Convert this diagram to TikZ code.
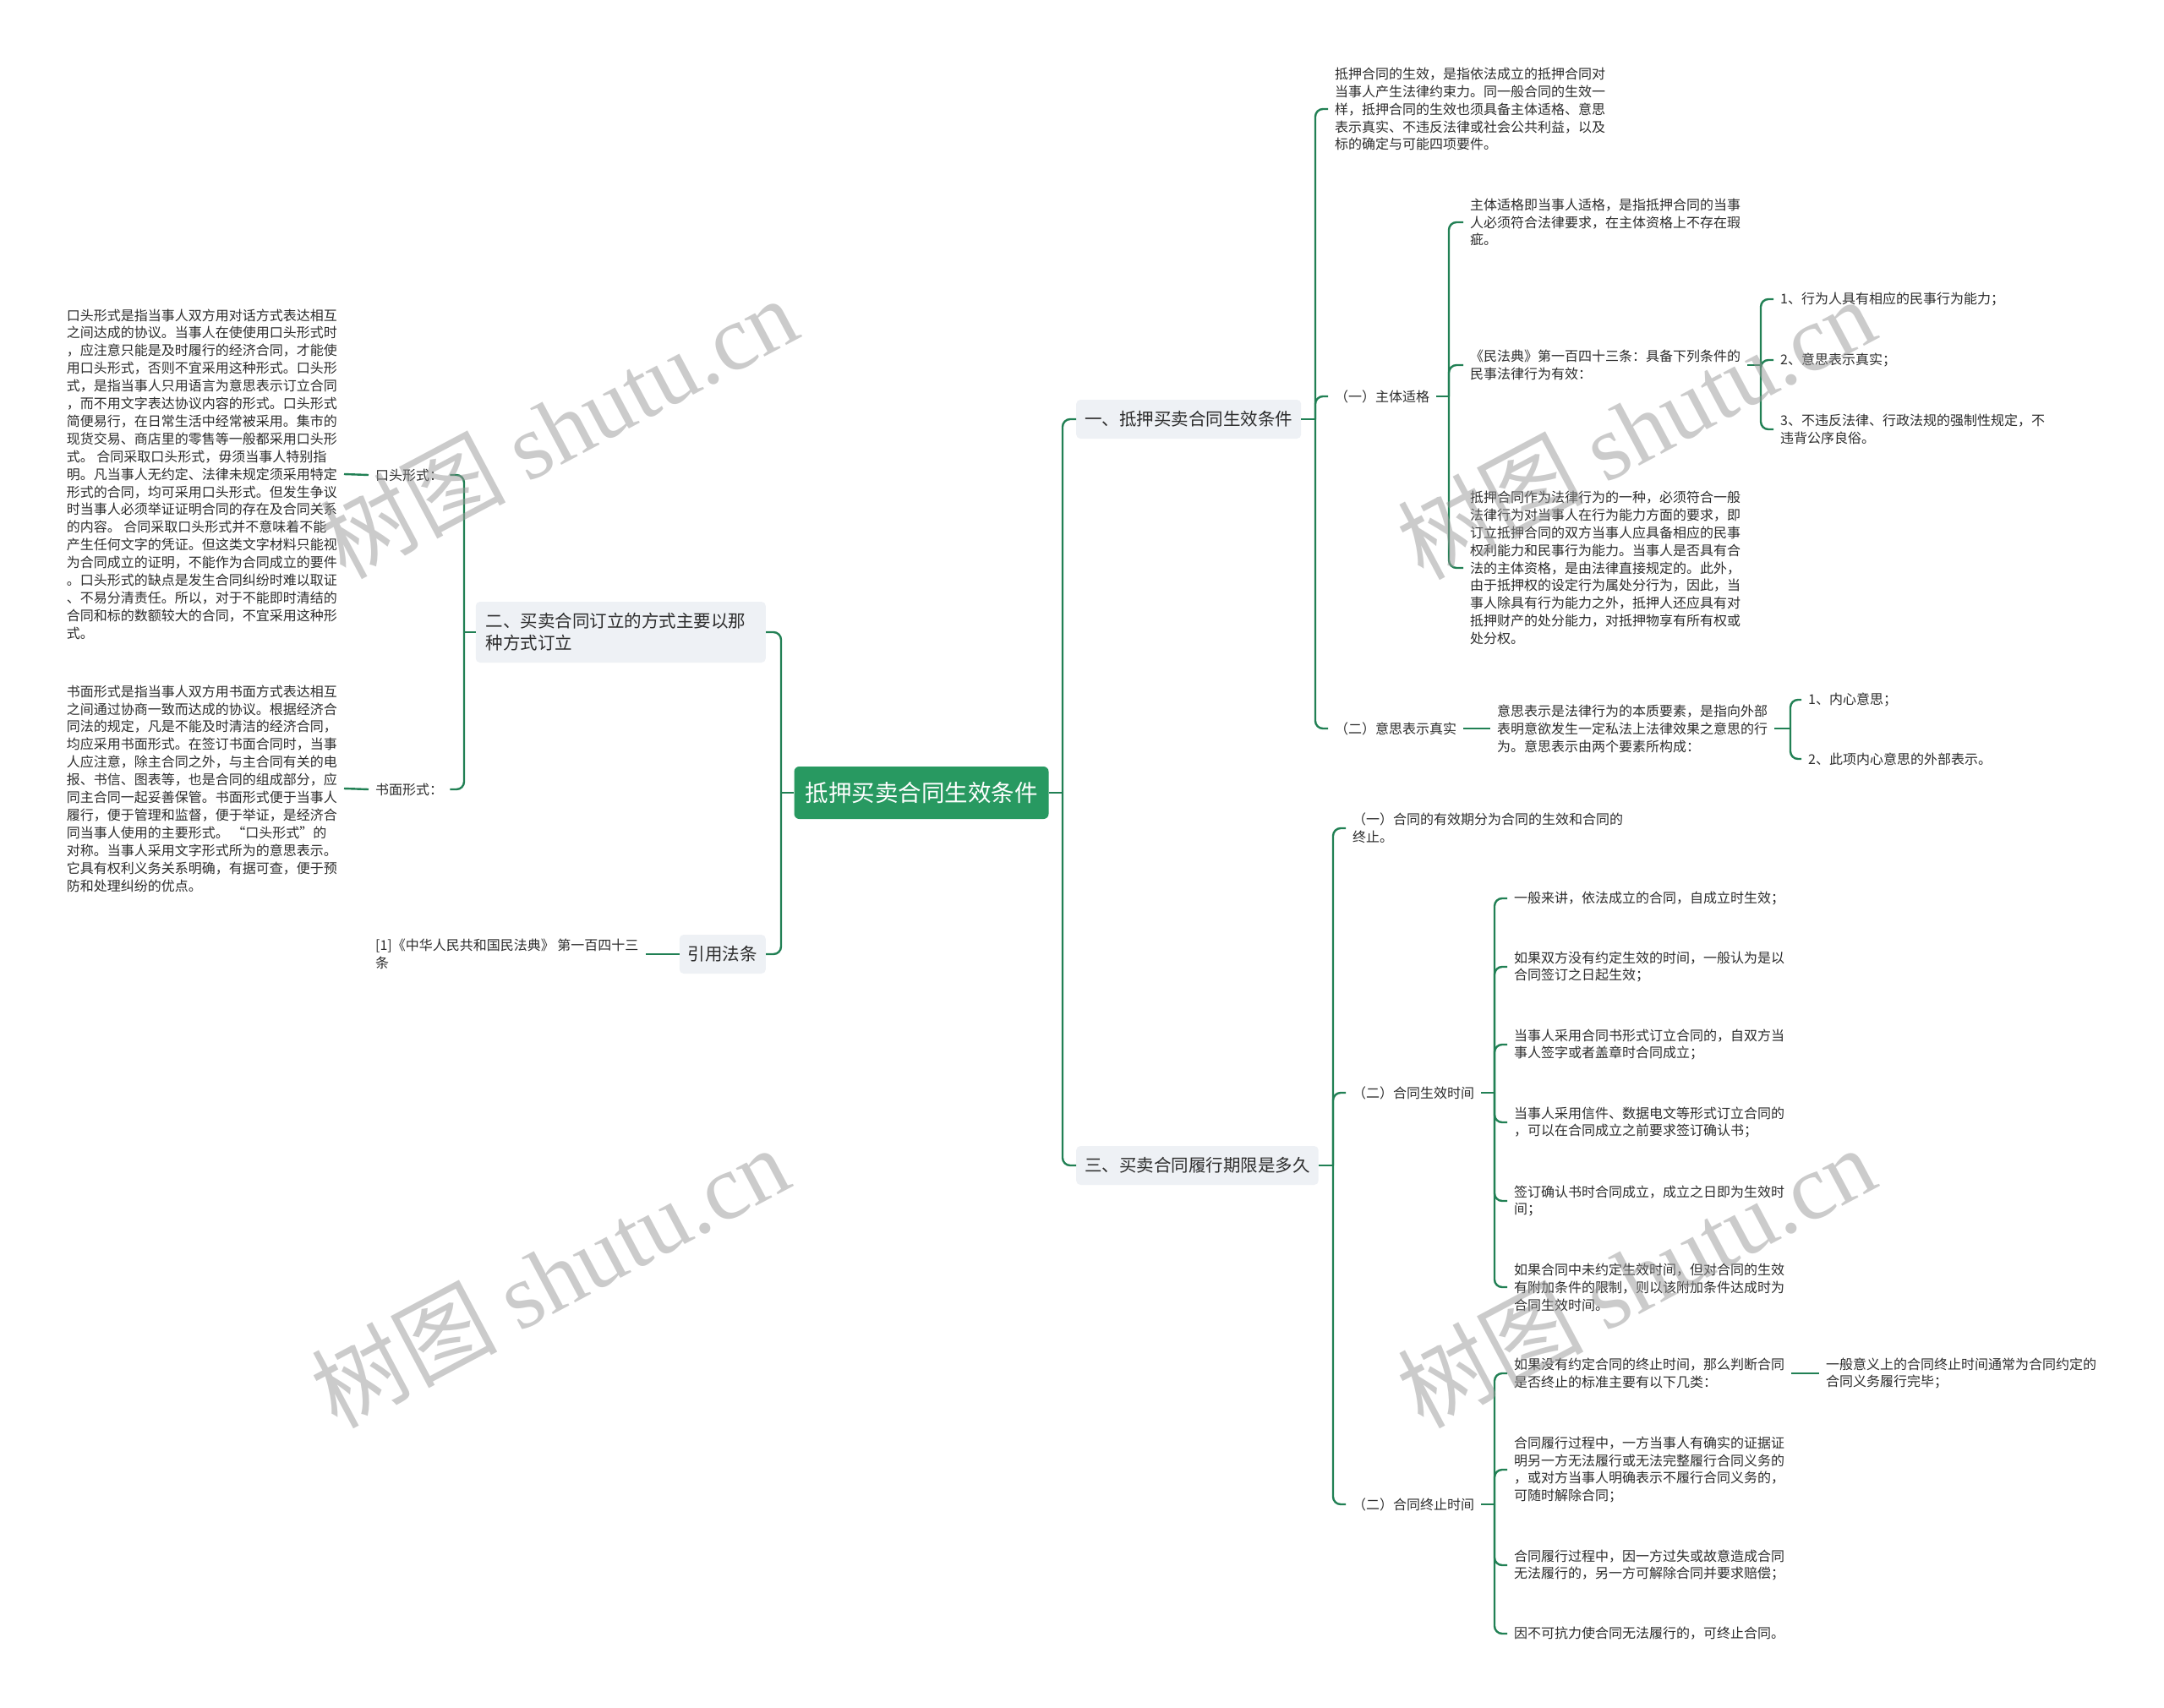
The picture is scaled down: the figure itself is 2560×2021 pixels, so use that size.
\documentclass[tikz,border=0pt]{standalone}
\usepackage{fontspec}
\setmainfont{Noto Sans CJK SC}
\newfontfamily\wmlatin{Liberation Serif}
\usetikzlibrary{positioning}
\definecolor{rootgreen}{RGB}{40,153,97}
\definecolor{linegreen}{RGB}{33,128,84}
\definecolor{topicfill}{RGB}{238,241,245}
\definecolor{inkdark}{RGB}{45,45,45}
\newcommand{\leaffont}{\fontsize{16}{20.9}\selectfont}

\begin{document}
\begin{tikzpicture}[x=1pt, y=-1pt,
    root/.style={fill=rootgreen, text=white, rounded corners=6pt,
                 font=\fontsize{27.5}{33}\selectfont, inner xsep=13pt,
                 minimum height=62pt},
    topic/.style={fill=topicfill, text=inkdark, rounded corners=5pt,
                  font=\fontsize{20.5}{26}\selectfont, inner xsep=10pt,
                  minimum height=46pt, align=left},
    leaf/.style={text=inkdark, font=\leaffont, align=left,
                 inner xsep=8pt, inner ysep=2pt},
    conn/.style={draw=linegreen, line width=2.4pt, rounded corners=9pt},
    wm/.style={text=black!40, opacity=.5, rotate=28,
               font=\fontsize{110}{110}\selectfont}
  ]
  \fill[white] (0,0) rectangle (2560,2021);
  \useasboundingbox (0,0) rectangle (2560,2021);

  \node[root] (root) at (1090,938) {抵押买卖合同生效条件};

  % left side
  \node[topic, anchor=east, text width=319pt, minimum height=72pt, inner xsep=12pt] (t2) at (906,748) {二、买卖合同订立的方式主要以那\\种方式订立};
  \node[topic, anchor=east] (law) at (906,1129) {引用法条};
  \node[leaf, anchor=west] (oral) at (436,562) {口头形式：};
  \node[leaf, anchor=west] (writ) at (436,934) {书面形式：};
  \node[leaf, anchor=east] (oraltxt) at (407,561) {口头形式是指当事人双方用对话方式表达相互\\之间达成的协议。当事人在使使用口头形式时\\，应注意只能是及时履行的经济合同，才能使\\用口头形式，否则不宜采用这种形式。口头形\\式，是指当事人只用语言为意思表示订立合同\\，而不用文字表达协议内容的形式。口头形式\\简便易行，在日常生活中经常被采用。集市的\\现货交易、商店里的零售等一般都采用口头形\\式。 合同采取口头形式，毋须当事人特别指\\明。凡当事人无约定、法律未规定须采用特定\\形式的合同，均可采用口头形式。但发生争议\\时当事人必须举证证明合同的存在及合同关系\\的内容。 合同采取口头形式并不意味着不能\\产生任何文字的凭证。但这类文字材料只能视\\为合同成立的证明，不能作为合同成立的要件\\。口头形式的缺点是发生合同纠纷时难以取证\\、不易分清责任。所以，对于不能即时清结的\\合同和标的数额较大的合同，不宜采用这种形\\式。};
  \node[leaf, anchor=east] (writtxt) at (407,933) {书面形式是指当事人双方用书面方式表达相互\\之间通过协商一致而达成的协议。根据经济合\\同法的规定，凡是不能及时清洁的经济合同，\\均应采用书面形式。在签订书面合同时，当事\\人应注意，除主合同之外，与主合同有关的电\\报、书信、图表等，也是合同的组成部分，应\\同主合同一起妥善保管。书面形式便于当事人\\履行，便于管理和监督，便于举证，是经济合\\同当事人使用的主要形式。 “口头形式”的\\对称。当事人采用文字形式所为的意思表示。\\它具有权利义务关系明确，有据可查，便于预\\防和处理纠纷的优点。};
  \node[leaf, anchor=west] (cite) at (436,1129) {[1]《中华人民共和国民法典》 第一百四十三\\条};

  \coordinate (rl) at (924,938);
  \coordinate (lb) at (549,748);
  \draw[conn] (root.west) -- (rl);
  \draw[conn] (rl) |- (t2.east);
  \draw[conn] (rl) |- (law.east);
  \draw[conn] (t2.west) -- (lb);
  \draw[conn] (lb) |- (oral.east);
  \draw[conn] (lb) |- (writ.east);
  \draw[conn] (oral.west) -- (oraltxt.east);
  \draw[conn] (writ.west) -- (writtxt.east);
  \draw[conn] (law.west) -- (cite.east);

  % right side, branch one
  \node[topic, anchor=west] (t1) at (1273,496) {一、抵押买卖合同生效条件};
  \node[leaf, anchor=west] (eff) at (1571,129) {抵押合同的生效，是指依法成立的抵押合同对\\当事人产生法律约束力。同一般合同的生效一\\样，抵押合同的生效也须具备主体适格、意思\\表示真实、不违反法律或社会公共利益，以及\\标的确定与可能四项要件。};
  \node[leaf, anchor=west] (subj) at (1571,469) {（一）主体适格};
  \node[leaf, anchor=west] (will) at (1571,862) {（二）意思表示真实};
  \node[leaf, anchor=west] (qual) at (1731,263) {主体适格即当事人适格，是指抵押合同的当事\\人必须符合法律要求，在主体资格上不存在瑕\\疵。};
  \node[leaf, anchor=west] (code) at (1731,432) {《民法典》第一百四十三条：具备下列条件的\\民事法律行为有效：};
  \node[leaf, anchor=west] (capa) at (1731,672) {抵押合同作为法律行为的一种，必须符合一般\\法律行为对当事人在行为能力方面的要求，即\\订立抵押合同的双方当事人应具备相应的民事\\权利能力和民事行为能力。当事人是否具有合\\法的主体资格，是由法律直接规定的。此外，\\由于抵押权的设定行为属处分行为，因此，当\\事人除具有行为能力之外，抵押人还应具有对\\抵押财产的处分能力，对抵押物享有所有权或\\处分权。};
  \node[leaf, anchor=west] (c1) at (2098,354) {1、行为人具有相应的民事行为能力；};
  \node[leaf, anchor=west] (c2) at (2098,426) {2、意思表示真实；};
  \node[leaf, anchor=west] (c3) at (2098,508) {3、不违反法律、行政法规的强制性规定，不\\违背公序良俗。};
  \node[leaf, anchor=west] (wdef) at (1763,862) {意思表示是法律行为的本质要素，是指向外部\\表明意欲发生一定私法上法律效果之意思的行\\为。意思表示由两个要素所构成：};
  \node[leaf, anchor=west] (w1) at (2131,828) {1、内心意思；};
  \node[leaf, anchor=west] (w2) at (2131,898) {2、此项内心意思的外部表示。};

  \coordinate (rr) at (1257,938);
  \coordinate (b1) at (1556,496);
  \coordinate (b2) at (1714,469);
  \coordinate (b3) at (2083,432);
  \coordinate (b4) at (2118,862);
  \draw[conn] (root.east) -- (rr);
  \draw[conn] (rr) |- (t1.west);
  \draw[conn] (t1.east) -- (b1);
  \draw[conn] (b1) |- (eff.west);
  \draw[conn] (b1) |- (subj.west);
  \draw[conn] (b1) |- (will.west);
  \draw[conn] (subj.east) -- (b2);
  \draw[conn] (b2) |- (qual.west);
  \draw[conn] (b2) |- (code.west);
  \draw[conn] (b2) |- (capa.west);
  \draw[conn] (code.east) -- (b3);
  \draw[conn] (b3) |- (c1.west);
  \draw[conn] (b3) |- (c2.west);
  \draw[conn] (b3) |- (c3.west);
  \draw[conn] (will.east) -- (wdef.west);
  \draw[conn] (wdef.east) -- (b4);
  \draw[conn] (b4) |- (w1.west);
  \draw[conn] (b4) |- (w2.west);

  % right side, branch three
  \node[topic, anchor=west] (t3) at (1273,1379) {三、买卖合同履行期限是多久};
  \node[leaf, anchor=west] (term) at (1592,980) {（一）合同的有效期分为合同的生效和合同的\\终止。};
  \node[leaf, anchor=west] (start) at (1592,1293) {（二）合同生效时间};
  \node[leaf, anchor=west] (stop) at (1592,1780) {（二）合同终止时间};
  \node[leaf, anchor=west] (s1) at (1783,1063) {一般来讲，依法成立的合同，自成立时生效；};
  \node[leaf, anchor=west] (s2) at (1783,1144) {如果双方没有约定生效的时间，一般认为是以\\合同签订之日起生效；};
  \node[leaf, anchor=west] (s3) at (1783,1236) {当事人采用合同书形式订立合同的，自双方当\\事人签字或者盖章时合同成立；};
  \node[leaf, anchor=west] (s4) at (1783,1328) {当事人采用信件、数据电文等形式订立合同的\\，可以在合同成立之前要求签订确认书；};
  \node[leaf, anchor=west] (s5) at (1783,1421) {签订确认书时合同成立，成立之日即为生效时\\间；};
  \node[leaf, anchor=west] (s6) at (1783,1523) {如果合同中未约定生效时间，但对合同的生效\\有附加条件的限制，则以该附加条件达成时为\\合同生效时间。};
  \node[leaf, anchor=west] (e1) at (1783,1625) {如果没有约定合同的终止时间，那么判断合同\\是否终止的标准主要有以下几类：};
  \node[leaf, anchor=west] (ee) at (2152,1625) {一般意义上的合同终止时间通常为合同约定的\\合同义务履行完毕；};
  \node[leaf, anchor=west] (e2) at (1783,1739) {合同履行过程中，一方当事人有确实的证据证\\明另一方无法履行或无法完整履行合同义务的\\，或对方当事人明确表示不履行合同义务的，\\可随时解除合同；};
  \node[leaf, anchor=west] (e3) at (1783,1852) {合同履行过程中，因一方过失或故意造成合同\\无法履行的，另一方可解除合同并要求赔偿；};
  \node[leaf, anchor=west] (e4) at (1783,1933) {因不可抗力使合同无法履行的，可终止合同。};

  \coordinate (b5) at (1577,1379);
  \coordinate (b6) at (1768,1293);
  \coordinate (b7) at (1768,1780);
  \draw[conn] (rr) |- (t3.west);
  \draw[conn] (t3.east) -- (b5);
  \draw[conn] (b5) |- (term.west);
  \draw[conn] (b5) |- (start.west);
  \draw[conn] (b5) |- (stop.west);
  \draw[conn] (start.east) -- (b6);
  \draw[conn] (b6) |- (s1.west);
  \draw[conn] (b6) |- (s2.west);
  \draw[conn] (b6) |- (s3.west);
  \draw[conn] (b6) |- (s4.west);
  \draw[conn] (b6) |- (s5.west);
  \draw[conn] (b6) |- (s6.west);
  \draw[conn] (stop.east) -- (b7);
  \draw[conn] (b7) |- (e1.west);
  \draw[conn] (b7) |- (e2.west);
  \draw[conn] (b7) |- (e3.west);
  \draw[conn] (b7) |- (e4.west);
  \draw[conn] (e1.east) -- (ee.west);

  % watermarks
  \node[wm] (wm1) at (660,505) {树图 {\wmlatin shutu.cn}};
  \node[wm] (wm2) at (650,1510) {树图 {\wmlatin shutu.cn}};
  \node[wm] (wm3) at (1935,506) {树图 {\wmlatin shutu.cn}};
  \node[wm] (wm4) at (1935,1510) {树图 {\wmlatin shutu.cn}};
\end{tikzpicture}
\end{document}
